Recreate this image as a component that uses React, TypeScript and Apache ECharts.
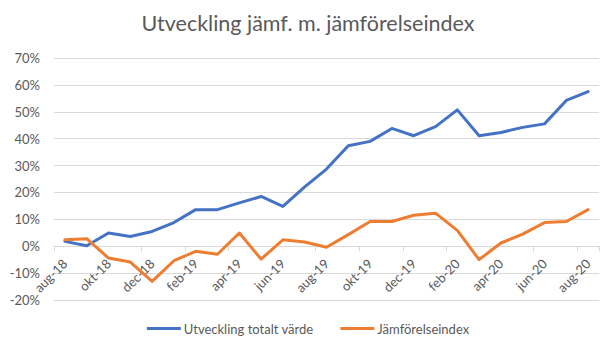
import React, { useEffect, useRef } from "react";
import * as echarts from "echarts";

const categories = [
  "aug-18", "sep-18", "okt-18", "nov-18", "dec-18", "jan-19", "feb-19", "mar-19",
  "apr-19", "maj-19", "jun-19", "jul-19", "aug-19", "sep-19", "okt-19", "nov-19",
  "dec-19", "jan-20", "feb-20", "mar-20", "apr-20", "maj-20", "jun-20", "jul-20", "aug-20",
];

const totalValue = [
  1.8, 0.2, 4.9, 3.6, 5.5, 8.8, 13.6, 13.6, 16.1, 18.5, 14.8, 22.1, 28.7,
  37.4, 39.0, 43.8, 41.1, 44.5, 50.7, 41.1, 42.3, 44.2, 45.5, 54.2, 57.5,
];

const indexValue = [
  2.4, 2.8, -4.4, -5.9, -13.1, -5.4, -1.9, -3.0, 4.9, -4.8, 2.4, 1.6, -0.4,
  4.3, 9.2, 9.2, 11.5, 12.3, 5.9, -5.0, 1.2, 4.5, 8.8, 9.2, 13.6,
];

const seriesNames = ["Utveckling totalt värde", "Jämförelseindex"];
const title = "Utveckling jämf. m. jämförelseindex";
const yMin = -20;
const yMax = 70;

export default function App() {
  const ref = useRef<HTMLDivElement>(null);
  useEffect(() => {
    if (!ref.current) return;
    const chart = echarts.init(ref.current, null, { renderer: "svg" });
    const font = "Lato, 'Open Sans', sans-serif";
    const gridTop = 58;
    const gridBottom = 57;
    const plotH = 357 - gridTop - gridBottom;
    const zeroOffset = -(plotH * (0 - yMin)) / (yMax - yMin);
    chart.setOption({
      animation: false,
      backgroundColor: "#ffffff",
      textStyle: { fontFamily: font },
      title: {
        text: title,
        left: "center",
        top: 7,
        textStyle: { fontFamily: font, fontSize: 21.5, fontWeight: "normal", color: "#595959" },
      },
      legend: {
        bottom: 17,
        left: "center",
        itemWidth: 34,
        itemHeight: 3,
        itemGap: 27,
        icon: "rect",
        textStyle: { fontFamily: font, fontSize: 13, color: "#595959", padding: [0, 0, 0, -2] },
        data: seriesNames,
      },
      grid: { left: 54, right: 17, top: gridTop, bottom: gridBottom, containLabel: false },
      xAxis: {
        type: "category",
        data: categories,
        boundaryGap: true,
        offset: zeroOffset,
        axisLine: { onZero: false, lineStyle: { color: "#d9d9d9" } },
        axisTick: { show: true, interval: 1, length: 5, lineStyle: { color: "#d9d9d9" } },
        axisLabel: {
          interval: 1,
          rotate: 45,
          fontSize: 13,
          color: "#595959",
          fontFamily: font,
          margin: 15,
        },
        splitLine: { show: false },
      },
      yAxis: {
        type: "value",
        min: yMin,
        max: yMax,
        interval: 10,
        axisLine: { show: false },
        axisTick: { show: false },
        axisLabel: {
          formatter: (v: number) => `${v}%`,
          fontSize: 13,
          color: "#595959",
          fontFamily: font,
          margin: 14,
        },
        splitLine: { lineStyle: { color: "#d9d9d9", width: 1 } },
      },
      series: [
        {
          name: seriesNames[0],
          type: "line",
          data: totalValue,
          symbol: "none",
          lineStyle: { color: "#4472C4", width: 3, join: "round", cap: "round" },
          itemStyle: { color: "#4472C4" },
        },
        {
          name: seriesNames[1],
          type: "line",
          data: indexValue,
          symbol: "none",
          lineStyle: { color: "#ED7D31", width: 3, join: "round", cap: "round" },
          itemStyle: { color: "#ED7D31" },
        },
      ],
    });
    return () => chart.dispose();
  }, []);
  return <div ref={ref} style={{ width: 616, height: 357, position: "absolute", left: 0, top: 0 }} />;
}
